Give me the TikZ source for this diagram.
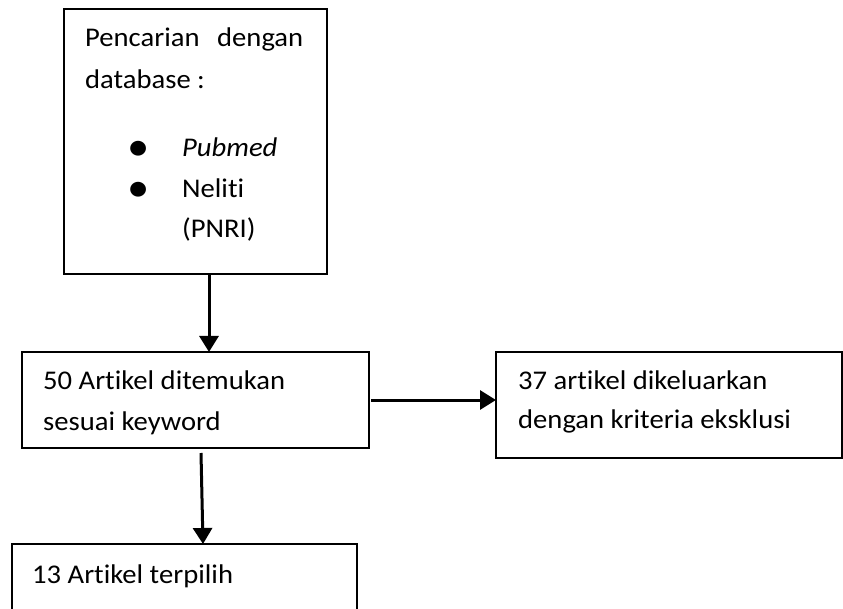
\documentclass[tikz,border=0pt]{standalone}
\usepackage{fontspec}
\setmainfont[FakeStretch=1.06,Ligatures={NoCommon}]{Carlito}
\usetikzlibrary{arrows.meta,calc}
\begin{document}
\begin{tikzpicture}[x=1pt,y=-1pt,
  box/.style={draw,line width=1.3pt,anchor=north west,inner sep=0pt,outer sep=0pt},
  txt/.style={anchor=base west,inner sep=0pt,font=\fontsize{27}{30}\selectfont},
  bul/.style={anchor=base,inner sep=0pt,font=\fontsize{42}{42}\selectfont},
  arr/.style={line width=3pt,-{Triangle[width=19pt,length=16pt]}}]
\useasboundingbox (0,0) rectangle (843,609);
\clip (0,0) rectangle (843,609);
\node[box,minimum width=263pt,minimum height=265pt] (b1) at (64,9) {};
\node[box,minimum width=347pt,minimum height=96pt] (b2) at (22,352) {};
\node[box,minimum width=346pt,minimum height=106pt] (b3) at (496,352) {};
\node[box,minimum width=345pt,minimum height=90pt] (b4) at (12,544) {};
\node[txt] (t1) at (85,47) {\makebox[218pt][s]{Pencarian dengan}};
\node[txt] (t2) at (85,89) {database :};
\node[bul] (u1) at (139,161) {\textbullet};
\node[bul] (u2) at (139,202) {\textbullet};
\node[txt] (t3) at (182,157) {\itshape Pubmed};
\node[txt] (t4) at (182,198) {Neliti};
\node[txt] (t5) at (182,238) {(PNRI)};
\node[txt] (t6) at (43,389) {50 Artikel ditemukan};
\node[txt] (t7) at (43,430) {sesuai keyword};
\node[txt] (t8) at (518,389) {37 artikel dikeluarkan};
\node[txt] (t9) at (518,428) {dengan kriteria eksklusi};
\node[txt] (t10) at (32,583) {13 Artikel terpilih};
\coordinate (a1x) at (209,0);
\coordinate (a3top) at (201,453);
\coordinate (a3x) at (203,0);
\draw[arr] (b1.south -| a1x) -- (b2.north -| a1x);
\draw[arr,shorten <=2pt] (b2.east) -- (b2.east -| b3.west);
\draw[arr] (a3top) -- (b4.north -| a3x);
\end{tikzpicture}
\end{document}
